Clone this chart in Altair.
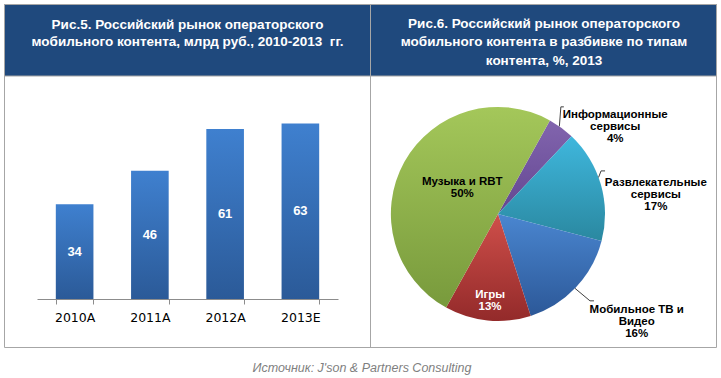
import math
import altair as alt
import pandas as pd

# ---- data ----
years = ["2010A", "2011A", "2012A", "2013E"]
market = [34, 46, 61, 63]

segments = ["Информационные сервисы", "Развлекательные сервисы",
            "Мобильное ТВ и Видео", "Игры", "Музыка и RBT"]
shares = [4, 17, 16, 13, 50]
seg_label_lines = [["Информационные", "сервисы", "4%"],
                   ["Развлекательные", "сервисы", "17%"],
                   ["Мобильное ТВ и", "Видео", "16%"],
                   ["Игры", "13%"],
                   ["Музыка и RBT", "50%"]]

title_left = ["Рис.5. Российский рынок операторского",
              "мобильного контента, млрд руб., 2010-2013\u00a0 гг."]
title_right = ["Рис.6. Российский рынок операторского",
               "мобильного контента в разбивке по типам",
               "контента, %, 2013"]
source_text = "Источник: J'son & Partners Consulting"

# ---- styles ----
W, H = 721, 378
HEADER = "#1f497d"
BORDER = "#a6a6a6"
FONT = "Liberation Sans"
CX, CY, R = 498, 214, 107
START_DEG = 29

slice_grads = [("#8265ae", "#634691"), ("#3fb7dd", "#2a88a0"),
               ("#4a86d0", "#2c5898"), ("#cf4f4a", "#932a2a"),
               ("#a4c75a", "#789a3c")]

def grad(top, bottom):
    return alt.LinearGradient(gradient="linear",
                              stops=[alt.GradientStop(color=top, offset=0),
                                     alt.GradientStop(color=bottom, offset=1)],
                              x1=0, x2=0, y1=0, y2=1)

one = pd.DataFrame({"k": [0]})

frame = alt.Chart(one).mark_rect(fill="white", stroke=BORDER, strokeWidth=1).encode(
    x=alt.value(4.5), x2=alt.value(716.5), y=alt.value(4.5), y2=alt.value(347.5))
header = alt.Chart(one).mark_rect(fill=HEADER, stroke=BORDER, strokeWidth=1).encode(
    x=alt.value(4.5), x2=alt.value(716.5), y=alt.value(4.5), y2=alt.value(76))
divider = alt.Chart(one).mark_rule(color=BORDER, strokeWidth=1).encode(
    x=alt.value(370.5), y=alt.value(4.5), y2=alt.value(347.5))

# ---- bar chart ----
bar_df = pd.DataFrame({"year": years, "value": market})
xs = alt.Scale(range=[37, 338], paddingInner=0.5, paddingOuter=0.25)
ys = alt.Scale(domain=[0, 70], range=[299, 104])
bar_base = alt.Chart(bar_df)
bars = bar_base.mark_bar(color=grad("#3f80cf", "#2b5a98")).encode(
    x=alt.X("year:N", sort=years, scale=xs, title=None,
            axis=alt.Axis(orient="bottom", offset=-79, tickBand="extent", zindex=1,
                          domainColor="#8c8c8c", tickColor="#8c8c8c", tickSize=5,
                          labelFont="DejaVu Sans", labelFontSize=12.5,
                          labelColor="black", labelPadding=7, labelAngle=0,
                          grid=False)),
    y=alt.Y("value:Q", scale=ys, axis=None))
bar_labels = bar_base.transform_calculate(mid="datum.value / 2").mark_text(
    font=FONT, fontSize=13, fontWeight="bold", color="white", baseline="middle").encode(
    x=alt.X("year:N", sort=years, scale=xs),
    y=alt.Y("mid:Q", scale=ys),
    text="value:Q")

# ---- pie chart ----
pie_df = pd.DataFrame({"segment": segments, "share": shares, "idx": list(range(len(shares)))})
off = math.radians(START_DEG)
ts = alt.Scale(domain=[0, 100], range=[off, off + 2 * math.pi])
pie_base = alt.Chart(pie_df).transform_window(
    cum="sum(share)", sort=[alt.SortField("idx")], frame=[None, 0]
).transform_calculate(start="datum.cum - datum.share", mid="datum.cum - datum.share / 2")

slices = []
for i, (top, bot) in enumerate(slice_grads):
    slices.append(pie_base.transform_filter(alt.datum.idx == i).mark_arc(
        radius=R, color=grad(top, bot)).encode(
        theta=alt.Theta("start:Q", scale=ts, stack=None),
        theta2=alt.Theta2("cum:Q"),
        x=alt.value(CX), y=alt.value(CY)))

# label placement: (radius, dx, dy, colour)
label_pos = [(107, 54, -13, "black"), (107, 55, -1.5, "black"),
             (107, 61, 22.5, "black"), (81, 0, 0, "white"), (50, 8, -8, "black")]
pie_labels = []
for i, (rr, dx, dy, col) in enumerate(label_pos):
    pie_labels.append(pie_base.transform_filter(alt.datum.idx == i).mark_text(
        radius=rr, dx=dx, dy=dy, text=seg_label_lines[i], font=FONT, fontSize=11.5,
        fontWeight="bold", color=col, align="center", baseline="middle",
        lineHeight=12).encode(
        theta=alt.Theta("mid:Q", scale=ts, stack=None),
        x=alt.value(CX), y=alt.value(CY)))

# leader lines: (angle on edge, elbow dx, elbow dy, tail dx)
leaders_def = [(0, 35, 1.5, -19.5, 3), (1, 70, 2.5, -6.5, 4), (2, 134, 15, 12.5, 4)]
leaders = []
for _, ang, edx, edy, tdx in leaders_def:
    a = math.radians(ang)
    x0, y0 = CX + R * math.sin(a), CY - R * math.cos(a)
    x1, y1 = x0 + edx, y0 + edy
    leaders.append(alt.Chart(one).mark_rule(color="#404040", strokeWidth=1).encode(
        x=alt.value(x0), y=alt.value(y0), x2=alt.value(x1), y2=alt.value(y1)))
    leaders.append(alt.Chart(one).mark_rule(color="#404040", strokeWidth=1).encode(
        x=alt.value(x1), y=alt.value(y1), x2=alt.value(x1 + tdx), y2=alt.value(y1)))

# ---- titles ----
t_left = alt.Chart(one).mark_text(text=title_left, font=FONT, fontSize=13.5, fontWeight="bold",
                                  color="white", align="center", baseline="alphabetic",
                                  lineHeight=17.5).encode(x=alt.value(187.5), y=alt.value(28.5))
t_right = alt.Chart(one).mark_text(text=title_right, font=FONT, fontSize=13.5, fontWeight="bold",
                                   color="white", align="center", baseline="alphabetic",
                                   lineHeight=18.5).encode(x=alt.value(544), y=alt.value(27.5))
src = alt.Chart(one).mark_text(text=source_text, font=FONT, fontSize=12.5, fontStyle="italic",
                               color="#7f7f7f", align="center", baseline="middle").encode(
    x=alt.value(362), y=alt.value(368))

chart = alt.layer(frame, header, divider, bars, bar_labels, *slices, *pie_labels,
                  *leaders, t_left, t_right, src).properties(
    width=W, height=H, autosize="none", padding=0
).configure_view(stroke=None)

chart.save("out.html", embed_options={"renderer": "svg", "actions": False})
